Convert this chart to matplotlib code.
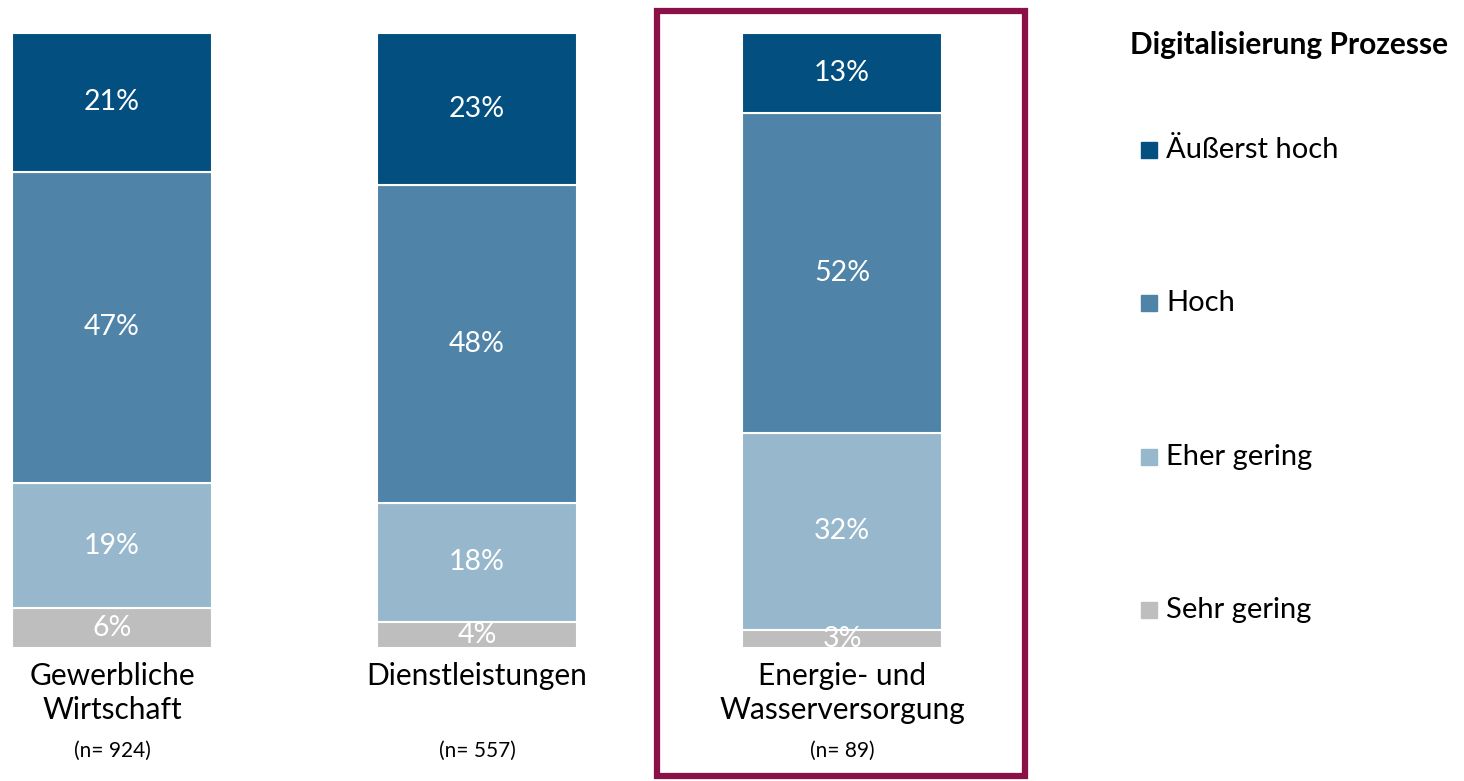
import numpy as np
import matplotlib.pyplot as plt
from matplotlib.patches import Rectangle

plt.rcParams['font.family'] = ['Lato', 'DejaVu Sans']

categories = ["Gewerbliche\nWirtschaft", "Dienstleistungen", "Energie- und\nWasserversorgung"]
sample_sizes = ["(n= 924)", "(n= 557)", "(n= 89)"]
series_names = ["Sehr gering", "Eher gering", "Hoch", "Äußerst hoch"]
sehr_gering = [6, 4, 3]
eher_gering = [19, 18, 32]
hoch = [47, 48, 52]
aeusserst_hoch = [21, 23, 13]

colors = ["#bebebe", "#97b8cc", "#4f84a8", "#034f7f"]
frame_color = "#8b1048"

values = np.array([sehr_gering, eher_gering, hoch, aeusserst_hoch], dtype=float)
shares = values / values.sum(axis=0)

W, H = 1464, 781
fig = plt.figure(figsize=(W / 100, H / 100), dpi=100)
ax = fig.add_axes([2.5 / W, 133 / H, 949 / W, 615 / H])

x = np.arange(len(categories))
bottom = np.zeros(len(categories))
for i, name in enumerate(series_names):
    ax.bar(x, shares[i], width=0.548, bottom=bottom, color=colors[i],
           edgecolor="white", linewidth=1.5, label=name)
    for j in range(len(categories)):
        ax.text(x[j], bottom[j] + shares[i][j] / 2, f"{int(values[i][j])}%",
                ha="center", va="center", color="white", fontsize=20.5)
    bottom += shares[i]

ax.set_xlim(-0.3, 2.3)
ax.set_ylim(0, 1)
ax.axis("off")

# category labels below the bars
for j, cat in enumerate(categories):
    ax.annotate(cat, (x[j], 0), xytext=(0, -10), textcoords="offset points",
                ha="center", va="top", fontsize=21.5, linespacing=1.25,
                annotation_clip=False)
    ax.annotate(sample_sizes[j], (x[j], 0), xytext=(0, -67), textcoords="offset points",
                ha="center", va="top", fontsize=15, annotation_clip=False)

# highlight frame around third category
fig.patches.append(Rectangle((657 / W, 5 / H), 368 / W, 765 / H, transform=fig.transFigure,
                             fill=False, edgecolor=frame_color, linewidth=4.5))

# legend
fig.text(1130 / W, 1 - 45 / H, "Digitalisierung Prozesse", fontsize=21.5,
         fontweight="bold", va="center", ha="left")
legend_y = [150, 303, 457, 610]
for i, name in enumerate(series_names[::-1]):
    yy = 1 - legend_y[i] / H
    fig.patches.append(Rectangle((1141 / W, yy - 8 / H), 16 / W, 16 / H,
                                 transform=fig.transFigure, color=colors[::-1][i]))
    fig.text(1166 / W, yy, name, fontsize=21, va="center", ha="left")

fig.savefig("out.png", dpi=100)
